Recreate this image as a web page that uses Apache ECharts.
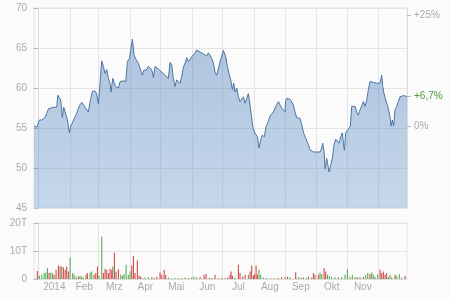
<!DOCTYPE html>
<html>
<head>
<meta charset="utf-8">
<script src="https://cdn.jsdelivr.net/npm/echarts@6/dist/echarts.min.js"></script>
<style>
  html, body { margin: 0; padding: 0; background: #fbfbfb; }
  #chart { width: 450px; height: 300px; }
</style>
</head>
<body>
<div id="chart"></div>
<script>
// x values are days counted from 1 Jan 2014
const monthStarts = [31, 59, 90, 120, 151, 181, 212, 243, 273, 304, 334];
const monthMid = [15.5, 45, 74.5, 105, 135.5, 166, 196.5, 227.5, 258, 288.5, 319];
const monthNames = ['2014', 'Feb', 'Mrz', 'Apr', 'Mai', 'Jun', 'Jul', 'Aug', 'Sep', 'Okt', 'Nov'];

const priceDays = [-4.5,-1.8,-0.2,0.8,3.1,4.8,6.4,8.0,9.7,11.3,14.6,17.9,18.9,20.5,21.8,23.4,24.8,26.1,27.1,28.4,
  30.3,31.6,33.3,35.2,37.5,39.2,40.8,42.5,44.1,45.7,47.4,49.0,50.7,53.0,55.6,57.2,58.9,60.5,62.1,63.8,
  65.4,67.1,68.7,70.3,71.3,73.0,74.3,75.6,76.9,78.5,80.2,81.8,83.5,85.8,87.4,89.4,91.0,92.3,94.0,95.3,
  96.6,98.2,99.9,102.1,103.8,105.8,108.0,109.7,111.3,113.0,114.6,116.3,118.9,
  121.2,122.8,124.4,126.1,127.7,129.4,131.0,132.6,134.3,135.9,137.6,139.2,140.8,142.5,144.1,145.8,147.4,149.0,150.7,153.3,
  155.6,157.2,158.9,160.5,162.2,163.8,165.4,167.1,168.7,170.4,172.0,173.6,175.3,176.9,178.6,180.2,181.8,182.8,184.1,185.8,
  187.4,189.1,190.7,192.0,193.3,195.0,196.6,198.2,199.9,201.5,203.2,204.8,206.4,207.4,209.1,210.7,212.3,213.6,215.3,216.9,
  218.9,220.2,222.2,223.8,226.1,227.7,229.4,231.0,232.7,234.3,235.9,237.6,239.2,240.9,242.5,
  243.0,244.1,245.8,247.4,249.1,250.7,252.3,254.0,255.6,257.3,258.9,260.5,262.2,263.8,265.5,267.1,268.7,270.4,272.0,273.7,
  275.3,276.9,278.6,279.6,280.9,281.9,283.5,284.5,285.8,287.4,289.1,290.7,292.4,294.0,295.6,297.3,298.9,299.9,300.9,302.2,
  303.8,305.5,306.8,308.1,309.7,311.4,313.0,314.6,316.3,317.9,319.6,321.2,322.9,324.5,326.1,327.8,329.4,331.0,332.7,334.3,
  336.0,337.6,338.6,339.9,341.5,343.2,344.5,345.8,346.8,348.1,349.4,350.7,352.4,354.0,355.6,357.3,358.9,360.6,362.5];

const prices = [55.25,55.1,54.9,56.0,56.0,56.2,56.3,56.8,57.4,57.6,57.6,57.6,59.1,59.2,58.5,56.3,57.6,57.0,57.2,56.0,
  54.4,55.2,55.1,56.2,56.8,57.5,57.9,58.2,57.9,57.6,57.7,57.0,58.3,59.6,59.6,59.25,58.0,60.6,63.4,62.7,
  61.8,62.3,61.2,60.6,59.5,61.2,61.1,60.2,60.3,60.0,60.8,60.7,60.9,60.8,63.3,63.7,63.8,66.1,64.1,63.7,
  63.9,63.1,63.2,61.6,62.25,62.2,62.7,62.8,62.3,61.3,62.7,62.9,62.25,
  62.0,61.9,61.6,61.8,61.2,63.2,62.9,61.2,60.2,61.0,60.8,60.6,61.4,62.6,63.1,63.8,63.3,63.5,63.9,64.3,
  64.75,64.96,64.5,64.4,64.25,64.2,64.0,64.4,64.3,63.7,63.1,62.0,61.6,61.5,63.3,63.1,64.7,64.9,63.9,62.7,
  61.8,61.0,59.8,60.6,59.5,60.0,58.9,58.3,58.5,58.9,58.1,57.9,59.3,58.5,56.8,55.2,54.5,54.75,53.9,52.5,
  53.7,54.1,53.9,55.2,55.8,56.5,56.6,57.0,57.5,57.25,58.3,58.1,57.5,57.25,57.0,
  58.3,58.7,58.9,58.6,58.8,57.9,57.0,56.3,56.1,56.2,55.4,54.5,53.9,53.7,52.9,52.3,52.25,52.0,51.9,52.0,
  52.25,52.0,52.5,53.1,52.0,49.9,51.2,51.3,49.5,49.75,51.2,52.9,53.6,53.5,53.1,53.9,54.4,53.1,52.2,54.4,
  54.7,54.5,55.2,57.7,57.75,57.7,57.0,56.6,57.25,57.25,58.3,57.7,58.5,59.8,60.8,60.9,60.7,60.8,60.6,60.8,
  60.6,61.6,60.2,59.3,58.5,57.9,57.9,56.4,55.25,56.0,55.25,57.25,57.7,58.3,58.9,59.0,59.05,59.0,58.95];

// volume in thousands (T)
const upDays = [0.8,3.1,5.4,7.1,8.7,12.0,13.6,22.8,31.0,33.6,34.9,36.9,40.8,42.5,44.1,50.7,52.3,59.5,62.2,73.0,
  80.9,82.5,84.1,86.1,88.3,90.0,102.5,104.8,108.0,
  113.6,127.7,131.0,134.3,137.6,140.8,144.1,150.7,153.0,155.6,168.1,176.9,183.5,193.3,206.4,216.9,218.6,221.2,224.5,228.4,
  231.7,242.5,247.4,255.6,
  258.2,263.8,268.7,276.9,278.6,284.2,286.1,288.4,291.7,298.2,301.5,303.8,306.4,308.7,311.4,316.3,321.9,323.9,327.8,329.4,
  331.1,333.7,344.2,345.8,347.5,352.4,354.9,357.3];
const upVol = [1.2,1.5,2.1,2.3,3.9,2.3,2.1,4.5,7.6,2.1,1.5,0.9,1.2,0.9,0.5,2.3,2.7,1.2,15.2,4.5,
  1.5,1.2,1.8,5.1,1.5,2.7,0.3,0.5,0.6,
  0.4,0.5,0.3,0.4,0.3,0.4,0.5,0.6,0.8,0.5,0.4,0.3,0.3,0.5,1.5,3.3,1.5,0.5,0.4,0.3,
  0.3,0.6,0.6,0.6,
  0.5,0.4,0.5,2.3,1.8,1.5,1.1,0.7,0.6,0.6,1.5,3.5,0.8,1.5,0.7,0.6,1.5,2.1,2.3,1.5,
  0.7,1.7,0.7,1.5,0.6,1.2,1.7,0.5];
const downDays = [-1.2,10.3,15.2,17.2,19.5,21.2,24.4,26.1,27.7,29.3,39.2,46.7,48.0,54.6,56.3,57.9,63.8,65.4,67.1,68.7,
  70.3,72.0,74.6,76.2,78.5,91.7,93.3,94.9,97.2,98.9,100.5,
  111.4,116.3,119.5,121.2,123.5,125.1,147.4,158.9,162.8,164.8,170.4,173.6,180.2,186.1,188.4,189.4,190.7,196.6,198.2,200.9,
  203.2,208.1,209.7,211.3,212.3,214.0,215.3,235.9,239.2,244.8,253.0,
  260.5,265.5,270.4,272.0,275.3,280.9,282.5,294.9,313.6,319.6,326.1,336.0,337.6,339.2,340.9,342.5,350.7,360.6];
const downVol = [2.9,2.1,1.5,3.3,4.8,4.5,4.1,3.3,4.5,2.7,0.9,1.5,2.1,1.5,2.1,4.5,2.1,3.7,3.3,2.1,
  3.7,3.3,9.4,2.7,3.5,4.8,8.2,2.1,6.6,1.2,0.9,
  0.6,0.8,2.3,1.5,3.3,1.5,0.4,0.6,1.5,1.8,0.4,1.5,0.4,0.6,1.5,2.7,1.2,5.1,2.1,0.9,
  1.5,2.7,4.8,1.2,1.7,4.8,1.5,0.4,0.6,0.8,2.4,
  0.5,0.9,2.1,1.5,1.5,3.9,2.7,0.5,0.6,0.7,1.8,3.3,2.1,2.7,1.5,2.1,1.5,1.2];

const base = prices[0];
const last = prices[prices.length - 1];
const pctTicks = [base, last, base * 1.25];

const gridColor = '#e4e4e4';
const labelColor = '#aaa';
const font = 'Liberation Sans, Arial, sans-serif';

const chart = echarts.init(document.getElementById('chart'));

const xCommon = {
    type: 'value',
    min: -4.5,
    max: 362.5,
    axisLine: { show: false },
    axisTick: { show: false, customValues: monthStarts },
    splitLine: { show: true, lineStyle: { color: gridColor } }
};

const option = {
    animation: false,
    grid: [
        { left: 34, right: 43, top: 8, height: 200, show: true, borderColor: gridColor, borderWidth: 1 },
        { left: 34, right: 43, top: 223, height: 56, show: true, borderColor: gridColor, borderWidth: 1 }
    ],
    xAxis: [
        Object.assign({}, xCommon, { gridIndex: 0, axisLabel: { show: false } }),
        Object.assign({}, xCommon, {
            gridIndex: 1,
            axisLine: { show: true, lineStyle: { color: '#ddd' } },
            axisLabel: {
                customValues: monthMid,
                color: labelColor,
                fontSize: 10,
                fontFamily: font,
                margin: 3,
                formatter: (v) => monthNames[monthMid.indexOf(v)] || ''
            }
        })
    ],
    yAxis: [
        {
            gridIndex: 0, min: 45, max: 70, interval: 5,
            axisLine: { show: true, lineStyle: { color: '#ddd' } },
            axisTick: { show: true, length: 5, lineStyle: { color: '#bbb' } },
            axisLabel: { color: labelColor, fontSize: 10, fontFamily: font, margin: 7 },
            splitLine: { lineStyle: { color: gridColor } }
        },
        {
            gridIndex: 0, min: 45, max: 70, position: 'right',
            axisLine: { show: true, lineStyle: { color: '#ddd' } },
            axisTick: { show: true, length: 4, customValues: pctTicks, lineStyle: { color: '#bbb' } },
            axisLabel: {
                customValues: pctTicks,
                color: labelColor, fontSize: 10, fontFamily: font, margin: 7,
                formatter: (v) => {
                    const p = (v / base - 1) * 100;
                    if (Math.abs(p) < 0.01) return '0%';
                    const isLast = Math.abs(v - last) < 1e-6;
                    const txt = '+' + (isLast ? p.toFixed(1).replace('.', ',') : p.toFixed(0)) + '%';
                    return isLast ? '{g|' + txt + '}' : txt;
                },
                rich: { g: { color: '#4a9a3a', fontSize: 10, fontFamily: font } }
            },
            splitLine: { show: false }
        },
        {
            gridIndex: 1, min: 0, max: 20, interval: 10,
            axisLine: { show: true, lineStyle: { color: '#ddd' } },
            axisTick: { show: true, length: 5, lineStyle: { color: '#bbb' } },
            axisLabel: {
                color: labelColor, fontSize: 10, fontFamily: font, margin: 7,
                formatter: (v) => v === 0 ? '0' : v + 'T'
            },
            splitLine: { lineStyle: { color: gridColor } }
        }
    ],
    series: [
        {
            type: 'line',
            xAxisIndex: 0, yAxisIndex: 0,
            data: priceDays.map((d, i) => [d, prices[i]]),
            showSymbol: false,
            lineStyle: { color: '#4a74a4', width: 1 },
            areaStyle: {
                origin: 'start',
                color: new echarts.graphic.LinearGradient(0, 0, 0, 1, [
                    { offset: 0, color: 'rgba(65,120,180,0.6)' },
                    { offset: 1, color: 'rgba(100,150,205,0.5)' }
                ])
            }
        },
        {
            type: 'bar',
            xAxisIndex: 1, yAxisIndex: 2,
            barWidth: 1,
            data: upDays.map((d, i) => [d, upVol[i]]),
            itemStyle: { color: '#4aa544' }
        },
        {
            type: 'bar',
            xAxisIndex: 1, yAxisIndex: 2,
            barWidth: 1,
            barGap: '-100%',
            data: downDays.map((d, i) => [d, downVol[i]]),
            itemStyle: { color: '#cf3b3b' }
        }
    ]
};

chart.setOption(option);
</script>
</body>
</html>
